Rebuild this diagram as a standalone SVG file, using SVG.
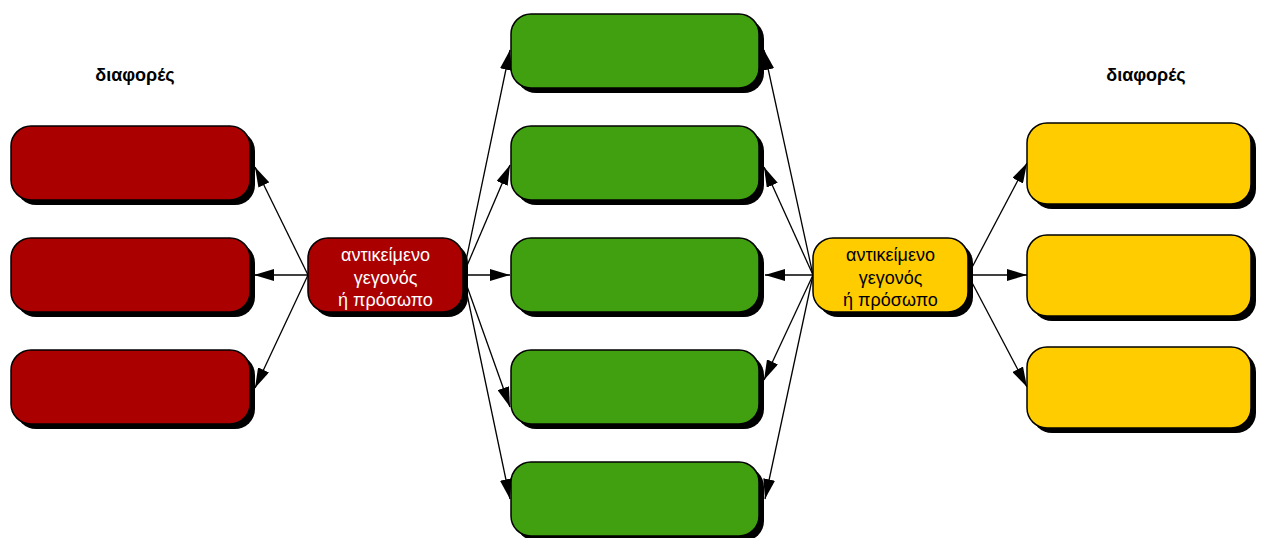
<svg xmlns="http://www.w3.org/2000/svg" width="1263" height="538" viewBox="0 0 1263 538">
<defs>
<style>
.sh{fill:#000}
.red{fill:#aa0000;stroke:#000;stroke-width:1.5}
.grn{fill:#41a00f;stroke:#000;stroke-width:1.5}
.yel{fill:#ffcc00;stroke:#000;stroke-width:1.5}
.lbl{font-family:"Liberation Sans",Arial,sans-serif;font-size:18px;text-anchor:middle}
.hd{font-family:"Liberation Sans",Arial,sans-serif;font-size:18px;font-weight:bold;text-anchor:middle;fill:#000}
.ln{stroke:#000;stroke-width:1.3;fill:none;marker-end:url(#ah)}
</style>
<marker id="ah" viewBox="0 0 20 12" refX="20" refY="6" markerWidth="20" markerHeight="12" markerUnits="userSpaceOnUse" orient="auto">
<path d="M0,0 L20,6 L0,12 Z" fill="#000"/>
</marker>
</defs>
<rect width="1263" height="538" fill="#fff"/>
<text class="hd" x="135" y="81">διαφορές</text>
<text class="hd" x="1146" y="81">διαφορές</text>
<g id="connectors">
<line class="ln" x1="308" y1="275" x2="255" y2="167"/>
<line class="ln" x1="308" y1="275" x2="254" y2="275"/>
<line class="ln" x1="308" y1="275" x2="255" y2="388"/>
<line class="ln" x1="463" y1="275" x2="510" y2="50"/>
<line class="ln" x1="463" y1="275" x2="510" y2="165"/>
<line class="ln" x1="463" y1="275" x2="510" y2="275"/>
<line class="ln" x1="463" y1="275" x2="510" y2="407"/>
<line class="ln" x1="463" y1="275" x2="510" y2="499"/>
<line class="ln" x1="813" y1="275" x2="764" y2="50"/>
<line class="ln" x1="813" y1="275" x2="764" y2="167"/>
<line class="ln" x1="813" y1="275" x2="765" y2="275"/>
<line class="ln" x1="813" y1="275" x2="764" y2="380"/>
<line class="ln" x1="813" y1="275" x2="765" y2="499"/>
<line class="ln" x1="968" y1="275" x2="1027" y2="163"/>
<line class="ln" x1="968" y1="275" x2="1027" y2="275"/>
<line class="ln" x1="968" y1="275" x2="1027" y2="387"/>
</g>
<g id="red1"><rect class="sh" x="16" y="131" width="239" height="74" rx="20"/><rect class="red" x="11" y="126" width="239" height="74" rx="20"/></g>
<g id="red2"><rect class="sh" x="16" y="243" width="239" height="74" rx="20"/><rect class="red" x="11" y="238" width="239" height="74" rx="20"/></g>
<g id="red3"><rect class="sh" x="16" y="355" width="239" height="74" rx="20"/><rect class="red" x="11" y="350" width="239" height="74" rx="20"/></g>
<g id="redCenter"><rect class="sh" x="313" y="243" width="155" height="74" rx="20"/><rect class="red" x="308" y="238" width="155" height="74" rx="20"/>
<text class="lbl" fill="#fff" x="385.5" y="261">αντικείμενο</text><text class="lbl" fill="#fff" x="385.5" y="284">γεγονός</text><text class="lbl" fill="#fff" x="385.5" y="306">ή πρόσωπο</text></g>
<g id="green1"><rect class="sh" x="516" y="19" width="248" height="74" rx="20"/><rect class="grn" x="511" y="14" width="248" height="74" rx="20"/></g>
<g id="green2"><rect class="sh" x="516" y="131" width="248" height="74" rx="20"/><rect class="grn" x="511" y="126" width="248" height="74" rx="20"/></g>
<g id="green3"><rect class="sh" x="516" y="243" width="248" height="74" rx="20"/><rect class="grn" x="511" y="238" width="248" height="74" rx="20"/></g>
<g id="green4"><rect class="sh" x="516" y="355" width="248" height="74" rx="20"/><rect class="grn" x="511" y="350" width="248" height="74" rx="20"/></g>
<g id="green5"><rect class="sh" x="516" y="467" width="248" height="74" rx="20"/><rect class="grn" x="511" y="462" width="248" height="74" rx="20"/></g>
<g id="yellowCenter"><rect class="sh" x="818" y="243" width="155" height="74" rx="20"/><rect class="yel" x="813" y="238" width="155" height="74" rx="20"/>
<text class="lbl" fill="#000" x="890.5" y="261">αντικείμενο</text><text class="lbl" fill="#000" x="890.5" y="284">γεγονός</text><text class="lbl" fill="#000" x="890.5" y="306">ή πρόσωπο</text></g>
<g id="yellow1"><rect class="sh" x="1032" y="128" width="224" height="81" rx="20"/><rect class="yel" x="1027" y="123" width="224" height="81" rx="20"/></g>
<g id="yellow2"><rect class="sh" x="1032" y="240" width="224" height="81" rx="20"/><rect class="yel" x="1027" y="235" width="224" height="81" rx="20"/></g>
<g id="yellow3"><rect class="sh" x="1032" y="352" width="224" height="81" rx="20"/><rect class="yel" x="1027" y="347" width="224" height="81" rx="20"/></g>
</svg>
